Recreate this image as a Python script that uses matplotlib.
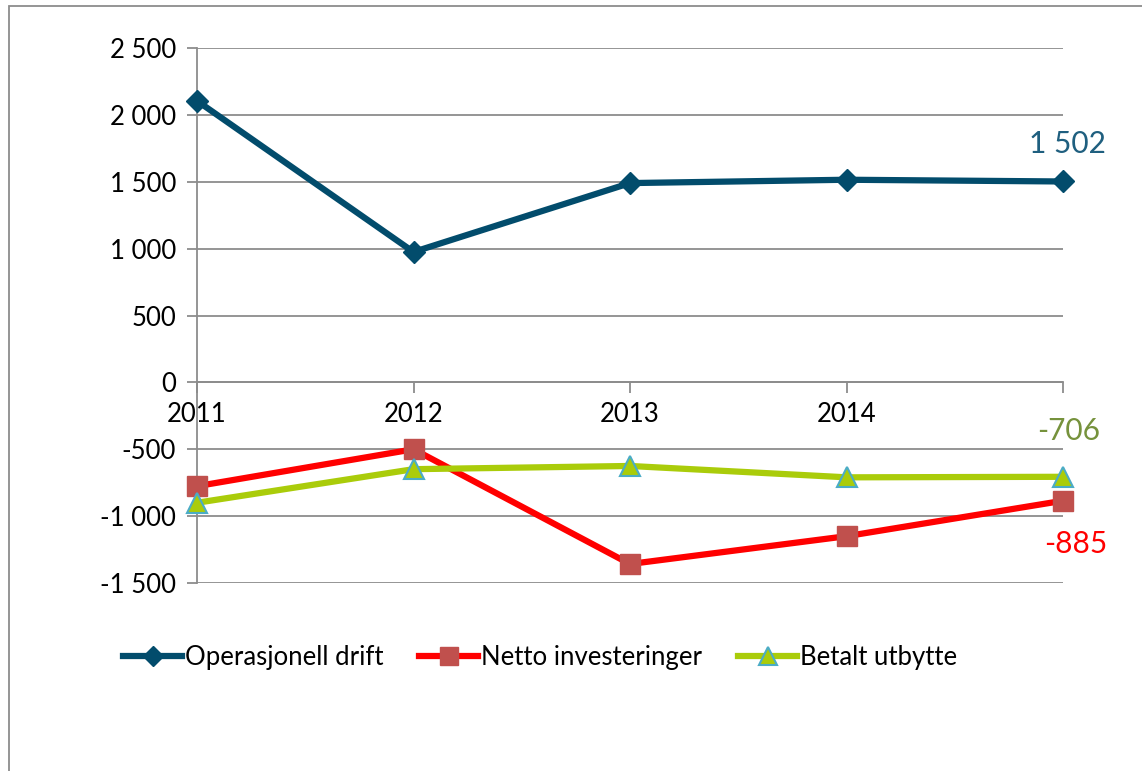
import matplotlib
matplotlib.use("Agg")
import matplotlib.pyplot as plt
from matplotlib.patches import Rectangle
from matplotlib.ticker import FuncFormatter

years = ["2011", "2012", "2013", "2014", ""]
operasjonell = [2105, 975, 1490, 1515, 1502]
netto_inv = [-776, -500, -1358, -1150, -885]
utbytte = [-900, -649, -625, -710, -706]

plt.rcParams['font.family'] = ['Lato', 'DejaVu Sans']

fig = plt.figure(figsize=(11.42, 7.71), dpi=100)
W, H = 1142, 771
ax = fig.add_axes([197 / W, 1 - 583 / H, (1063 - 197) / W, (583 - 48) / H])

x = list(range(len(years)))
l1, = ax.plot(x, operasjonell, color='#024C6C', lw=4.5, marker='D', ms=11,
              mfc='#024C6C', mec='#024C6C', label='Operasjonell drift', zorder=5, clip_on=False)
l2, = ax.plot(x, netto_inv, color='#FF0000', lw=4.5, marker='s', ms=15,
              mfc='#C0504D', mec='#C0504D', label='Netto investeringer', zorder=4, clip_on=False)
l3, = ax.plot(x, utbytte, color='#AACC0A', lw=4.5, marker='^', ms=15,
              mfc='#AACC0A', mec='#4BACC6', mew=1.5, label='Betalt utbytte', zorder=6, clip_on=False)

ax.set_xlim(0, len(years) - 1)
ax.set_ylim(-1500, 2500)
ax.set_yticks(range(-1500, 2501, 500))
ax.yaxis.set_major_formatter(FuncFormatter(lambda v, p: f"{int(v):,}".replace(",", " ")))
ax.set_xticks(x)
ax.set_xticklabels(years)

ax.grid(axis='y', color='#8C8C8C', lw=1.3, zorder=0)
ax.set_axisbelow(True)
for s in ['top', 'right']:
    ax.spines[s].set_visible(False)
ax.spines['left'].set_color('#8C8C8C')
ax.spines['left'].set_linewidth(1.3)
ax.spines['bottom'].set_position(('data', 0))
ax.spines['bottom'].set_color('#8C8C8C')
ax.spines['bottom'].set_linewidth(1.3)
ax.tick_params(axis='y', length=7, width=1.3, color='#8C8C8C', labelsize=18.5, pad=8)
ax.tick_params(axis='x', length=8, width=1.3, color='#8C8C8C', labelsize=18.5, pad=6)
for t in ax.get_xticklabels() + ax.get_yticklabels():
    t.set_color('black')

ax.annotate(f"{operasjonell[-1]:,}".replace(",", " "), (x[-1], operasjonell[-1]),
            xytext=(3, 17), textcoords='offset points', ha='center', va='bottom',
            fontsize=21.5, color='#1F5F7F', annotation_clip=False)
ax.annotate(f"{utbytte[-1]}", (x[-1], utbytte[-1]),
            xytext=(4, 23), textcoords='offset points', ha='center', va='bottom',
            fontsize=21.5, color='#76923C', annotation_clip=False)
ax.annotate(f"{netto_inv[-1]}", (x[-1], netto_inv[-1]),
            xytext=(9, -21), textcoords='offset points', ha='center', va='top',
            fontsize=21.5, color='#FF0000', annotation_clip=False)

fig.legend(handles=[l1, l2, l3], loc='center', bbox_to_anchor=(540 / W, 1 - 657 / H),
           ncol=3, frameon=False, fontsize=18.5, handlelength=2.3, handletextpad=0.1,
           columnspacing=1.4, markerscale=0.9)

fig.patches.append(Rectangle((9 / W, -0.01), 1.2, 1 - 6 / H + 0.01, transform=fig.transFigure,
                             fill=False, edgecolor='#8C8C8C', lw=1.3))

fig.savefig("out.png", dpi=100, facecolor='white')
